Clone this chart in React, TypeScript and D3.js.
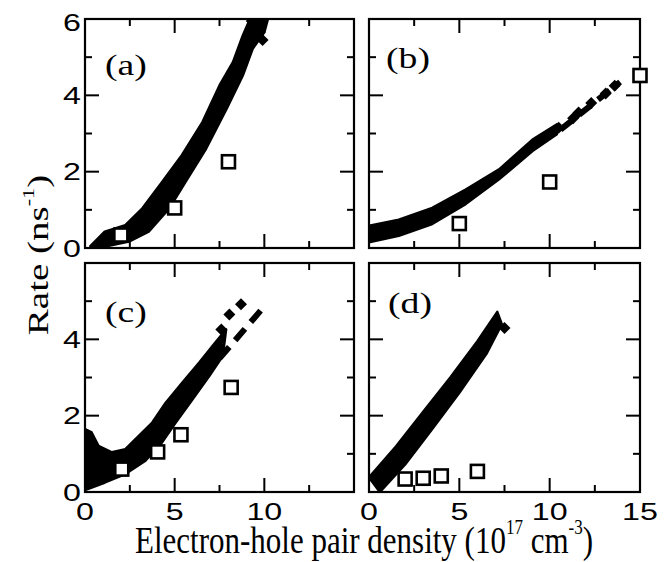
import React from "react";
import * as d3 from "d3";

// ---- data ----
// x: electron-hole pair density (1e17 cm^-3), y: rate (ns^-1)
const aBandUpper = [[0.3,0.05],[1.1,0.43],[2.25,0.6],[3.2,1.04],[4.3,1.73],[5.4,2.43],[6.55,3.3],[7.5,4.26],[8.25,4.87],[8.8,5.57],[9.2,6.0]];
const aBandLower = [[0.75,0],[2.45,0.17],[3.55,0.43],[4.7,1.04],[5.6,1.73],[6.75,2.6],[7.9,3.65],[8.8,4.52],[9.35,5.22],[10.0,5.65],[10.2,6.0]];
const aDiamonds = [[9.9,5.45],[9.6,5.8],[9.3,5.95]];
const aDash: number[][] = [];
const aSquares = [[2.0,0.34],[5.0,1.05],[8.0,2.26]];

const bBandUpper = [[0,0.58],[1.65,0.74],[3.5,1.05],[5.35,1.53],[7.2,2.06],[9.05,2.84],[10.4,3.24]];
const bBandLower = [[0,0.15],[1.65,0.32],[3.5,0.63],[5.35,1.15],[7.2,1.8],[9.05,2.54],[10.4,2.98]];
const bDiamonds = [[10.5,3.15],[11.3,3.4],[11.6,3.55],[12.3,3.8],[13.1,4.05],[13.6,4.25]];
const bDash = [[10.6,3.1],[13.9,4.35]];
const bSquares = [[5.0,0.64],[10.0,1.73],[15.0,4.52]];

const cBandUpper = [[0,1.65],[0.37,1.56],[0.75,1.21],[1.5,1.04],[2.25,1.12],[3.0,1.47],[3.75,1.82],[4.5,2.34],[5.43,2.87],[6.37,3.39],[7.12,3.83],[7.87,4.26]];
const cBandLower = [[0,0.05],[1.12,0.25],[2.25,0.47],[3.37,0.82],[4.3,1.3],[5.06,1.82],[6.0,2.43],[6.93,3.04],[7.68,3.56]];
const cDiamonds = [[7.6,4.26],[8.05,4.65],[8.7,4.92]];
const cDash = [[7.5,3.5],[10.1,4.92]];
const cSquares = [[2.05,0.6],[4.05,1.05],[5.35,1.5],[8.15,2.74]];

const dBandUpper = [[0,0.38],[1.5,1.2],[3.0,2.1],[4.5,3.0],[6.0,3.95],[7.1,4.72]];
const dBandLower = [[0.6,0],[2.0,0.72],[3.5,1.65],[5.0,2.6],[6.5,3.62],[7.35,4.4]];
const dDiamonds = [[7.5,4.3]];
const dDash: number[][] = [];
const dSquares = [[2.0,0.34],[3.0,0.36],[4.0,0.42],[6.0,0.54]];

const xMajor = [0, 5, 10, 15];
const xMinor = [2.5, 7.5, 12.5];
const yMajor = [0, 2, 4, 6];
const yMinor = [1, 3, 5];
const xLabelsLeft = ["0", "5", "10"];
const xLabelsRight = ["0", "5", "10", "15"];
const yLabelsTop = ["0", "2", "4", "6"];
const yLabelsBottom = ["0", "2", "4"];
const panelLetters = ["(a)", "(b)", "(c)", "(d)"];

// ---- layout ----
const colX = [[85, 354], [369, 640]];
const rowY = [[19, 248], [263, 492]];

type Panel = {
  key: string; col: number; row: number; letter: string;
  upper: number[][]; lower: number[][]; diamonds: number[][]; dash: number[][]; squares: number[][];
  xLabels: string[] | null; yLabels: string[] | null; letterPos: [number, number];
};

const panels: Panel[] = [
  { key: "a", col: 0, row: 0, letter: panelLetters[0], upper: aBandUpper, lower: aBandLower, diamonds: aDiamonds, dash: aDash, squares: aSquares, xLabels: null, yLabels: yLabelsTop, letterPos: [105, 75] },
  { key: "b", col: 1, row: 0, letter: panelLetters[1], upper: bBandUpper, lower: bBandLower, diamonds: bDiamonds, dash: bDash, squares: bSquares, xLabels: null, yLabels: null, letterPos: [386, 68] },
  { key: "c", col: 0, row: 1, letter: panelLetters[2], upper: cBandUpper, lower: cBandLower, diamonds: cDiamonds, dash: cDash, squares: cSquares, xLabels: xLabelsLeft, yLabels: yLabelsBottom, letterPos: [105, 322] },
  { key: "d", col: 1, row: 1, letter: panelLetters[3], upper: dBandUpper, lower: dBandLower, diamonds: dDiamonds, dash: dDash, squares: dSquares, xLabels: xLabelsRight, yLabels: null, letterPos: [388, 313] },
];

const SANS = "'Liberation Sans', Arial, sans-serif";
const SERIF = "'Liberation Serif', 'Times New Roman', serif";

function PanelView({ p }: { p: Panel }) {
  const [x0, x1] = colX[p.col];
  const [y0, y1] = rowY[p.row];
  const x = d3.scaleLinear().domain([0, 15]).range([x0, x1]);
  const y = d3.scaleLinear().domain([0, 6]).range([y1, y0]);
  const line = d3.line<number[]>().x(d => x(d[0])).y(d => y(d[1]));
  const poly = line([...p.upper, ...p.lower.slice().reverse()]) + "Z";
  const clipId = "clip-" + p.key;
  const MAJ = 14, MIN = 7;
  const sq = 13;
  const dm = 6;
  return (
    <g>
      <defs>
        <clipPath id={clipId}>
          <rect x={x0} y={y0} width={x1 - x0} height={y1 - y0} />
        </clipPath>
      </defs>
      <g clipPath={`url(#${clipId})`}>
        <path d={poly} fill="#000" stroke="#000" strokeWidth={2.5} strokeLinejoin="round" />
        {p.diamonds.map((d, i) => (
          <path key={i} d={`M${x(d[0])},${y(d[1]) - dm}L${x(d[0]) + dm},${y(d[1])}L${x(d[0])},${y(d[1]) + dm}L${x(d[0]) - dm},${y(d[1])}Z`} fill="#000" />
        ))}
        {p.dash.length > 1 && (
          <path d={line(p.dash) || ""} fill="none" stroke="#000" strokeWidth={6} strokeDasharray="15 9" />
        )}
      </g>
      {xMajor.map(v => (
        <g key={"xM" + v}>
          <line x1={x(v)} x2={x(v)} y1={y1} y2={y1 - MAJ} stroke="#000" strokeWidth={2} />
          <line x1={x(v)} x2={x(v)} y1={y0} y2={y0 + MAJ} stroke="#000" strokeWidth={2} />
        </g>
      ))}
      {xMinor.map(v => (
        <g key={"xm" + v}>
          <line x1={x(v)} x2={x(v)} y1={y1} y2={y1 - MIN} stroke="#000" strokeWidth={2} />
          <line x1={x(v)} x2={x(v)} y1={y0} y2={y0 + MIN} stroke="#000" strokeWidth={2} />
        </g>
      ))}
      {yMajor.map(v => (
        <g key={"yM" + v}>
          <line x1={x0} x2={x0 + MAJ} y1={y(v)} y2={y(v)} stroke="#000" strokeWidth={2} />
          <line x1={x1} x2={x1 - MAJ} y1={y(v)} y2={y(v)} stroke="#000" strokeWidth={2} />
        </g>
      ))}
      {yMinor.map(v => (
        <g key={"ym" + v}>
          <line x1={x0} x2={x0 + MIN} y1={y(v)} y2={y(v)} stroke="#000" strokeWidth={2} />
          <line x1={x1} x2={x1 - MIN} y1={y(v)} y2={y(v)} stroke="#000" strokeWidth={2} />
        </g>
      ))}
      <rect x={x0} y={y0} width={x1 - x0} height={y1 - y0} fill="none" stroke="#000" strokeWidth={2.2} />
      {p.squares.map((d, i) => (
        <rect key={i} x={x(d[0]) - sq / 2} y={y(d[1]) - sq / 2} width={sq} height={sq} fill="#fff" stroke="#000" strokeWidth={2.6} />
      ))}
      {p.xLabels && p.xLabels.map((t, i) => (
        <text key={"xl" + i} transform={`translate(${x(+t)},520) scale(1.4,1)`} textAnchor="middle" fontFamily={SANS} fontSize={23}>{t}</text>
      ))}
      {p.yLabels && p.yLabels.map((t, i) => (
        <text key={"yl" + i} transform={`translate(81,${y(+t) + 8.5 + (+t === 6 ? 3 : 0)}) scale(1.4,1)`} textAnchor="end" fontFamily={SANS} fontSize={23}>{t}</text>
      ))}
      <text transform={`translate(${p.letterPos[0]},${p.letterPos[1]}) scale(1.3,1)`} fontFamily={SERIF} fontSize={29}>{p.letter}</text>
    </g>
  );
}

export default function App() {
  return (
    <svg width={669} height={562} style={{ position: "absolute", left: 0, top: 0, background: "#fff" }}>
      <rect x={0} y={0} width={669} height={562} fill="#fff" />
      {panels.map(p => <PanelView key={p.key} p={p} />)}
      <text transform="translate(364,553) scale(1,1.25)" textAnchor="middle" fontFamily={SERIF} fontSize={31}>
        Electron-hole pair density (10<tspan fontSize={17} dy={-15}>17</tspan><tspan dy={15}> cm</tspan><tspan fontSize={17} dy={-15}>-3</tspan><tspan dy={15}>)</tspan>
      </text>
      <text transform="translate(48,255) rotate(-90) scale(1.3,1)" textAnchor="middle" fontFamily={SERIF} fontSize={30}>
        Rate (ns<tspan fontSize={17} dy={-14}>-1</tspan><tspan dy={14}>)</tspan>
      </text>
    </svg>
  );
}
